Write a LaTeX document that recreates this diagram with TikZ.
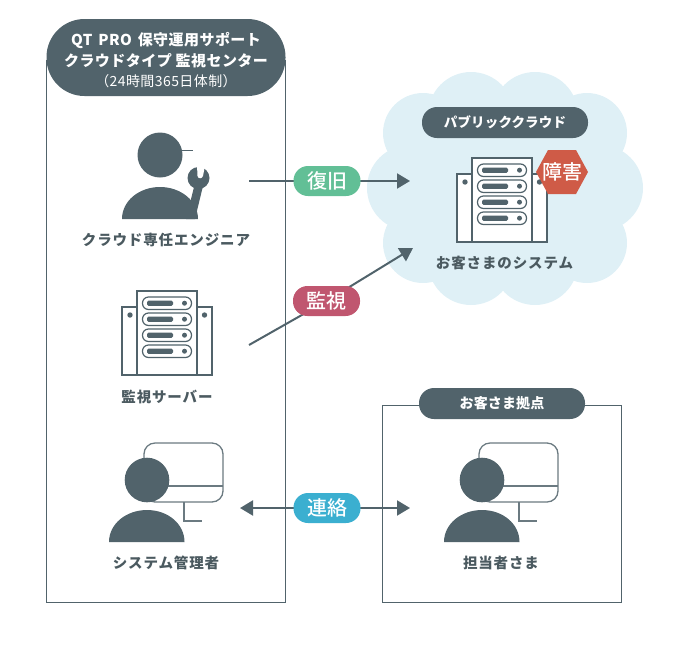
\documentclass[tikz,border=0pt]{standalone}
\usepackage{fontspec}
\setmainfont{Noto Sans CJK JP}
\newfontfamily\mediumjp{Noto Sans CJK JP Medium}
\usetikzlibrary{arrows.meta,backgrounds}
\definecolor{slate}{HTML}{51636B}
\definecolor{inktext}{HTML}{4B5A60}
\definecolor{cloudblue}{HTML}{DFF0F6}
\definecolor{hexred}{HTML}{CF5B47}
\definecolor{pillgreen}{HTML}{62BF96}
\definecolor{pillred}{HTML}{C0566F}
\definecolor{pillblue}{HTML}{3BAFD0}
\newcommand{\fsz}[1]{\fontsize{#1}{#1}\selectfont}
\tikzset{
  panel/.style={draw=slate,line width=1pt},
  darkpill/.style={fill=slate,text=white,font=\bfseries\fsz{13.5}\addfontfeature{LetterSpace=1},inner sep=0pt,anchor=center},
  tagpill/.style={rounded corners=14.5pt,minimum width=67pt,minimum height=30pt,inner sep=0pt,text=white,font=\mediumjp\fsz{20}},
  caption/.style={text=inktext,font=\bfseries\fsz{14.5}\addfontfeature{LetterSpace=6},inner sep=0pt},
  flow/.style={draw=slate,line width=2pt},
  tip/.style={-{Triangle[length=13pt,width=15pt]},flow},
  serverpic/.pic={
    \draw[slate,line width=1.6pt,fill=white] (-15,16) rectangle (75,84);
    \draw[slate,line width=1.6pt,fill=white] (0,0) rectangle (60,84);
    \fill[slate] (-7,24) circle[radius=2.7] (67.5,24) circle[radius=2.7];
    \foreach \y in {6,22,38,54}{
      \draw[slate,line width=1.2pt,fill=white,rounded corners=6pt] (5.5,\y) rectangle (54.5,\y+12.5);
      \fill[slate,rounded corners=1.5pt] (10,\y+3.6) rectangle (36,\y+8.9);
      \fill[slate] (47.5,\y+6.2) circle[radius=2.5];
    }
  },
  adminpic/.pic={
    \draw[slate!85,line width=1.3pt,rounded corners=11pt,fill=white] (-3,-37) rectangle (76,22);
    \draw[slate!85,line width=1.3pt] (0,6) -- (76,6);
    \draw[slate!85,line width=1.3pt] (37,22) -- (37,41) -- (55,41);
    \fill[slate] (0,0) circle[radius=22.3];
    \fill[slate] (-38,62) .. controls (-38,44) and (-21,30) .. (0,30)
       .. controls (21,30) and (37.5,44) .. (37.5,62) -- cycle;
  }
}
\begin{document}
\begin{tikzpicture}[x=1pt,y=-1pt,line join=miter]
\useasboundingbox (0,0) rectangle (700,646);

% flow end points
\coordinate (engout) at (249,181);
\coordinate (cloudin) at (410,181);
\coordinate (monout) at (249,345);
\coordinate (monin) at (413,248);
\coordinate (adminend) at (240,508);
\coordinate (siteend) at (410,508);

% tags
\node[tagpill,fill=pillgreen] (restore) at (327,181) {復旧};
\node[tagpill,fill=pillred] (watch) at (326.5,301) {監視};
\node[tagpill,fill=pillblue] (contact) at (327,508) {連絡};

\begin{scope}[on background layer]
% cloud
\fill[cloudblue]
  (423,133) circle[radius=40] (587,133) circle[radius=40]
  (423,243) circle[radius=40] (587,243) circle[radius=40]
  (410,188) circle[radius=43] (600,188) circle[radius=43]
  (471,115) circle[radius=43] (535,115) circle[radius=43]
  (471,262) circle[radius=43] (535,262) circle[radius=43];
\fill[cloudblue] (420,110) rectangle (590,265);
% panels
\draw[panel] (46.5,60) -- (46.5,602.5) -- (285.5,602.5) -- (285.5,60);
\draw[panel] (382.5,405.5) rectangle (621.5,602.5);
% connectors
\draw[flow] (engout) -- (restore.center);
\draw[tip] (restore.center) -- (cloudin);
\draw[flow] (monout) -- (watch.center);
\draw[tip] (watch.center) -- (monin);
\draw[tip] (contact.center) -- (adminend);
\draw[tip] (contact.center) -- (siteend);
\end{scope}

% header
\node[fill=slate,rounded corners=38pt,minimum width=239pt,minimum height=77pt,inner sep=0pt] (headpill) at (166,57.5) {};
\node[inner sep=0pt,text=white,align=center,font=\bfseries\fsz{15}\addfontfeature{LetterSpace=3}] (headtext) at (166,60)
  {QT\hspace{2pt} PRO\hspace{2pt} 保守運用サポート\\[4pt]クラウドタイプ 監視センター\\[5pt]\mdseries\fsz{14}（24時間365日体制）};

% engineer
\fill[slate] (160,155) circle[radius=22.5];
\draw[slate,line width=1pt] (175,150) -- (193,150);
\fill[slate] (122,219) .. controls (122,201) and (139,187) .. (160,187)
   .. controls (181,187) and (198,201) .. (198,219) -- cycle;
\fill[slate] (195,183) -- (203,186) -- (195,219) -- (186,219) -- cycle;
\fill[slate] (198.5,178) circle[radius=11];
\fill[white] (197,165) -- (205,165.5) -- (203,176) .. controls (202,179) and (198,179) .. (197.5,176) -- cycle;
\node[caption] (engineer) at (166,239.5) {クラウド専任エンジニア};

% monitor server
\pic at (137,291) {serverpic};
\node[caption] (monitor) at (167,396.5) {監視サーバー};

% admin
\pic at (147,480) {adminpic};
\node[caption] (admin) at (166,562.5) {システム管理者};

% cloud contents
\node[darkpill,rounded corners=15pt,minimum width=166pt,minimum height=31pt] (public) at (505,122.5) {パブリッククラウド};
\pic at (472,158) {serverpic};
\node[caption] (system) at (504.5,262.5) {お客さまのシステム};
\fill[hexred] (536,172) -- (548,150) -- (576,150) -- (588,172) -- (576,194) -- (548,194) -- cycle;
\node[text=white,font=\mediumjp\fsz{20},inner sep=0pt] (fault) at (562.5,172) {障害};

% customer site
\node[darkpill,rounded corners=15pt,minimum width=166pt,minimum height=31pt,font=\bfseries\fsz{14}\addfontfeature{LetterSpace=1}] (site) at (502,403.5) {お客さま拠点};
\pic at (482,480) {adminpic};
\node[caption] (person) at (501,562.5) {担当者さま};
\end{tikzpicture}
\end{document}
